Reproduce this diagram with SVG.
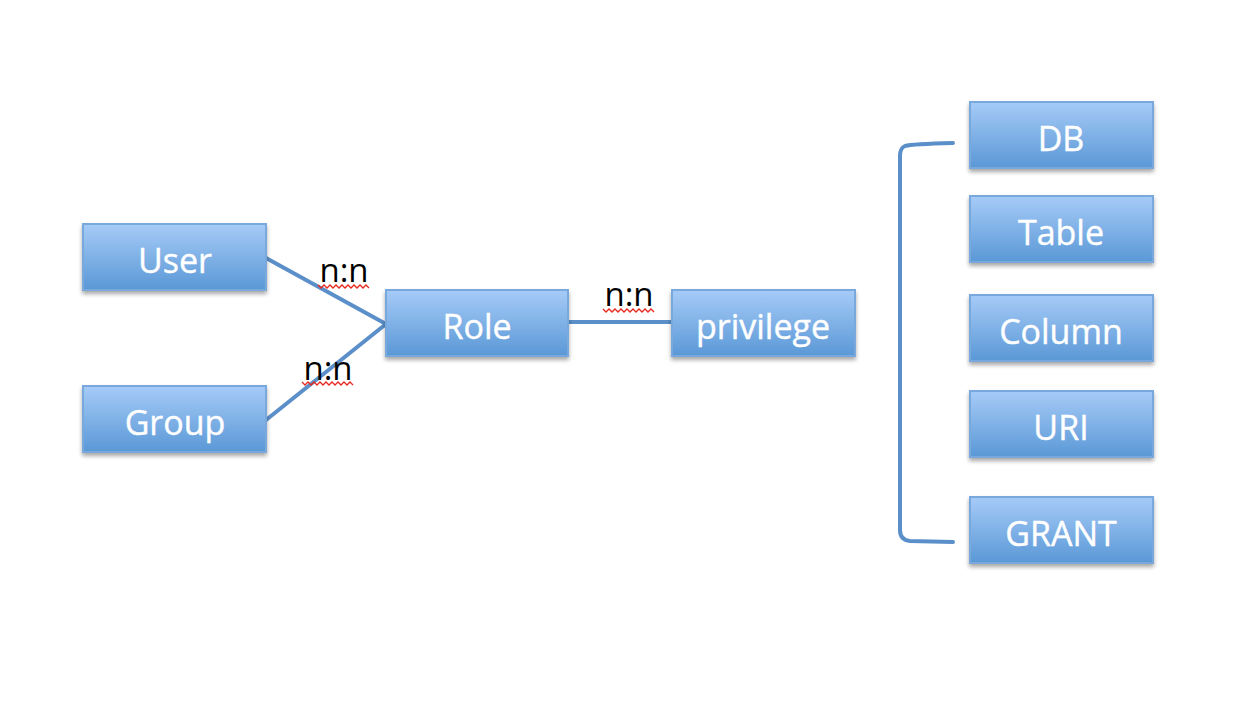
<svg xmlns="http://www.w3.org/2000/svg" width="1240" height="704" viewBox="0 0 1240 704">
<defs>
<linearGradient id="g" x1="0" y1="0" x2="0" y2="1">
<stop offset="0" stop-color="#a6cbf7"/>
<stop offset="1" stop-color="#5a98d6"/>
</linearGradient>
<filter id="sh" x="-10%" y="-10%" width="125%" height="140%">
<feGaussianBlur in="SourceAlpha" stdDeviation="2"/>
<feOffset dx="0" dy="3"/>
<feComponentTransfer><feFuncA type="linear" slope="0.35"/></feComponentTransfer>
<feMerge><feMergeNode/><feMergeNode in="SourceGraphic"/></feMerge>
</filter>
</defs>
<style>
.box{fill:url(#g);stroke:#78a8dc;stroke-width:2;filter:url(#sh)}
.lbl{fill:#ffffff;font-family:"Open Sans","Lato","DejaVu Sans",sans-serif;font-size:34px;text-anchor:middle;stroke:#ffffff;stroke-width:0.4}
.con{fill:none;stroke:#5b8fc9;stroke-width:4;stroke-linecap:round;stroke-linejoin:round}
.nn{fill:#000;font-family:"Open Sans","DejaVu Sans",sans-serif;font-size:33px;text-anchor:middle}
.sq{fill:none;stroke:#e8281e;stroke-width:1.3}
</style>
<rect width="1240" height="704" fill="#ffffff"/>
<g id="connectors">
<path class="con" d="M266,258 L386,324 L266,420"/>
<path class="con" d="M568,322 L672,322"/>
<path class="con" d="M953,143 Q912,144 905,146 Q900,148 900,156 L900,530 Q900,540 910,541 L953,542"/>
</g>
<g id="labels">
<text class="nn" x="344" y="282">n:n</text>
<path class="sq" d="M318,285 l3,3 l3,-3 l3,3 l3,-3 l3,3 l3,-3 l3,3 l3,-3 l3,3 l3,-3 l3,3 l3,-3 l3,3 l3,-3 l3,3 l3,-3 l3,3"/>
<text class="nn" x="328" y="380">n:n</text>
<path class="sq" d="M302,382 l3,3 l3,-3 l3,3 l3,-3 l3,3 l3,-3 l3,3 l3,-3 l3,3 l3,-3 l3,3 l3,-3 l3,3 l3,-3 l3,3 l3,-3 l3,3"/>
<text class="nn" x="629" y="306">n:n</text>
<path class="sq" d="M603,309 l3,3 l3,-3 l3,3 l3,-3 l3,3 l3,-3 l3,3 l3,-3 l3,3 l3,-3 l3,3 l3,-3 l3,3 l3,-3 l3,3 l3,-3 l3,3"/>
</g>
<g id="user"><rect class="box" x="83" y="224" width="183" height="66"/><text class="lbl" x="175" y="273">User</text></g>
<g id="group"><rect class="box" x="83" y="386" width="183" height="66"/><text class="lbl" x="175" y="435">Group</text></g>
<g id="role"><rect class="box" x="386" y="290" width="182" height="66"/><text class="lbl" x="477" y="339">Role</text></g>
<g id="privilege"><rect class="box" x="672" y="290" width="183" height="66"/><text class="lbl" x="763" y="339">privilege</text></g>
<g id="db"><rect class="box" x="970" y="102" width="183" height="66"/><text class="lbl" x="1061" y="151">DB</text></g>
<g id="table"><rect class="box" x="970" y="196" width="183" height="66"/><text class="lbl" x="1061" y="245">Table</text></g>
<g id="column"><rect class="box" x="970" y="295" width="183" height="66"/><text class="lbl" x="1061" y="344">Column</text></g>
<g id="uri"><rect class="box" x="970" y="391" width="183" height="66"/><text class="lbl" x="1061" y="440">URI</text></g>
<g id="grant"><rect class="box" x="970" y="497" width="183" height="66"/><text class="lbl" x="1061" y="546">GRANT</text></g>
</svg>
